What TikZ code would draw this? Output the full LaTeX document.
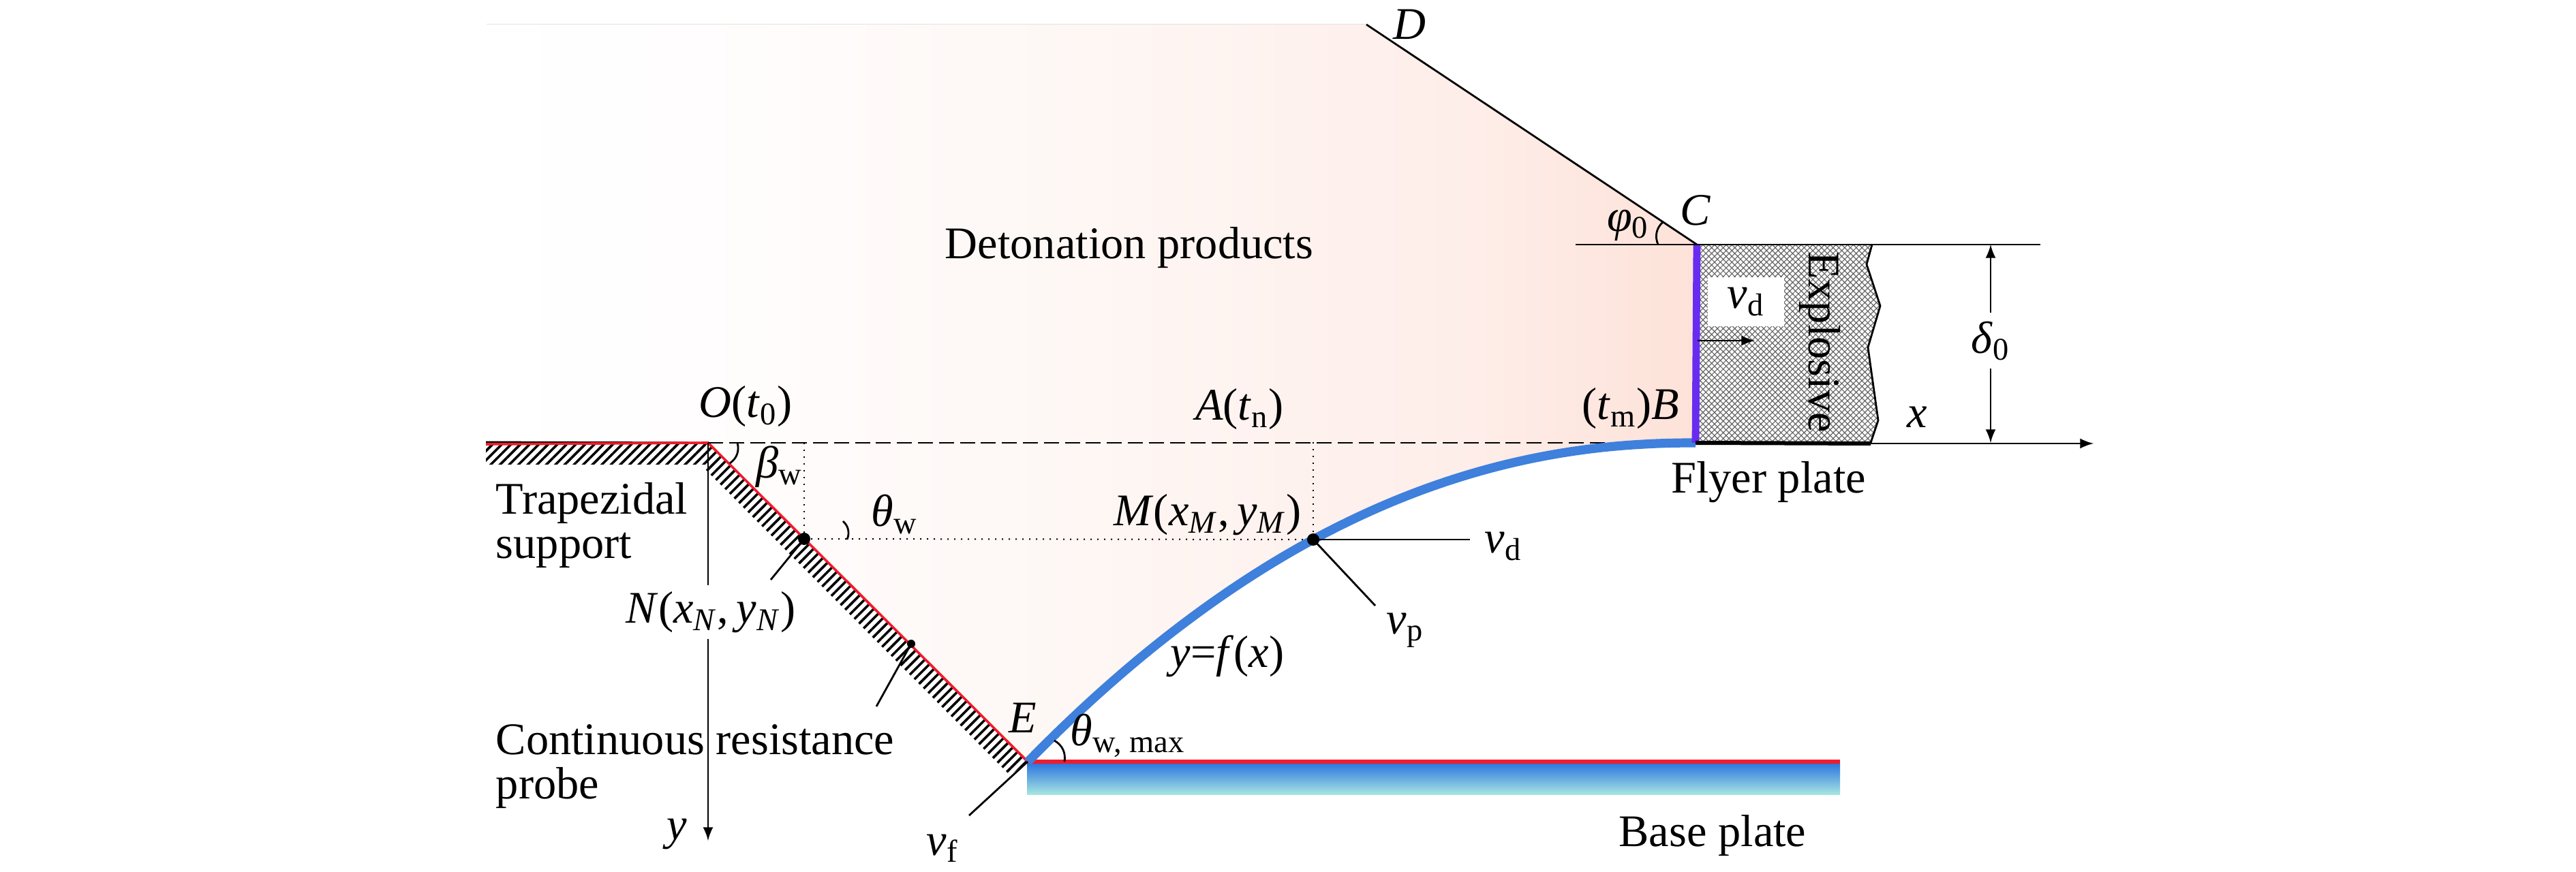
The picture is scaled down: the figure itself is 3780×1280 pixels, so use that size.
\documentclass[tikz,border=0pt]{standalone}
\usepackage{fontspec}
\setmainfont{Liberation Serif}
\usetikzlibrary{patterns.meta}
\definecolor{flowred}{RGB}{238,28,44}
\definecolor{curveblue}{RGB}{62,128,220}
\definecolor{frontviolet}{RGB}{104,44,240}
\definecolor{basetop}{RGB}{44,116,222}
\definecolor{basebot}{RGB}{168,232,226}
\definecolor{gasa}{RGB}{255,255,255}
\definecolor{gasb}{RGB}{255,253,253}
\definecolor{gasc}{RGB}{254,247,244}
\definecolor{gasd}{RGB}{254,238,234}
\definecolor{gase}{RGB}{253,226,216}
\pgfdeclarehorizontalshading{gasfade}{100bp}{color(0bp)=(gasa);
  color(25bp)=(gasa);color(34bp)=(gasb);
  color(50bp)=(gasc);color(65bp)=(gasd);
  color(75bp)=(gase);color(100bp)=(gase)}
\tikzstyle{txt}=[inner sep=0pt,font=\fontsize{16.6}{16.4}\selectfont]
\tikzstyle{thin line}=[line width=.7pt]
\tikzstyle{dot line}=[line width=.5pt,dotted]
\tikzstyle{hatch}=[pattern={Lines[angle=45,distance=2.4pt,line width=.9pt]}]
\tikzstyle{mesh a}=[pattern={Lines[angle=45,distance=1.5pt,line width=.3pt]},pattern color=black!60]
\tikzstyle{mesh b}=[pattern={Lines[angle=-45,distance=1.5pt,line width=.3pt]},pattern color=black!60]
\begin{document}
\begin{tikzpicture}[x=.25pt,y=-.25pt,>=latex]
  \useasboundingbox (0,0) rectangle (3780,1280);

  \coordinate (O) at (1039,650);
  \coordinate (E) at (1508,1118);
  \coordinate (A) at (1927,649);
  \coordinate (B) at (2488,650);
  \coordinate (C) at (2490,359);
  \coordinate (D) at (2005,36);
  \coordinate (M) at (1927,792);
  \coordinate (N) at (1180,791);
  \coordinate (R) at (1337,945);

  % detonation products
  \fill[shading=gasfade] (714,36) -- (D) -- (C) -- (B)
    -- plot[domain=0:980,samples=50,smooth] ({2488-\x},{650+142*pow(\x/561,2.14)})
    -- (O) -- (714,648) -- cycle;

  % base plate
  \fill[top color=basetop,bottom color=basebot] (1507,1120) rectangle (2700,1167);
  \draw[flowred,line width=1.3pt] (E) -- (2700,1118);

  % support
  \fill[hatch] (713,652) rectangle (1039,682);
  \fill[hatch] (O) -- (E) -- (1482,1138) -- (1036,690) -- cycle;
  \draw[thin line] (713,649) -- (O);
  \draw[flowred,line width=.9pt] (713,652) -- (O) -- (E);

  % explosive
  \fill[white] (C) -- (2747,359) -- (2739,388) -- (2759,449) -- (2741,510) -- (2756,617) -- (2745,650) -- (B) -- cycle;
  \fill[mesh a] (C) -- (2747,359) -- (2739,388) -- (2759,449) -- (2741,510) -- (2756,617) -- (2745,650) -- (B) -- cycle;
  \fill[mesh b] (C) -- (2747,359) -- (2739,388) -- (2759,449) -- (2741,510) -- (2756,617) -- (2745,650) -- (B) -- cycle;
  \draw[thin line] (2747,359) -- (2739,388) -- (2759,449) -- (2741,510) -- (2756,617) -- (2745,650);

  % lines
  \draw[line width=.6pt,dashed,dash pattern=on 5.5pt off 2.2pt] (O) -- (B);
  \draw[dot line] (N) -- (M);
  \draw[dot line] (1180,650) -- (N);
  \draw[dot line] (A) -- (M);
  \draw[curveblue,line width=3.3pt] plot[domain=0:980,samples=50,smooth] ({2488-\x},{650+142*pow(\x/561,2.14)});
  \draw[frontviolet,line width=2.7pt] (C) -- (B);
  \draw[line width=1.5pt] (B) -- (2745,651);
  \draw[thin line] (D) -- (C);
  \draw[thin line] (2312,359) -- (2994,359);
  \draw[thin line,->] (2745,651) -- (3072,651);

  \fill (M) circle (9);
  \fill (N) circle (9);
  \fill (R) circle (6);
  \draw[thin line] (M) -- (2157,792);
  \draw[thin line] (M) -- (2018,889);
  \draw[thin line] (N) -- (1131,851);
  \draw[thin line] (R) -- (1286,1037);
  \draw[thin line] (E) -- (1422,1197);

  % angles
  \draw[thin line] (1082,650) to[bend left=35] (1071,680);
  \draw[thin line] (1237,765) to[bend left=35] (1243,792);
  \draw[thin line] (2440,326) to[bend right=35] (2433,359);
  \draw[thin line] (1547,1087) to[bend left=35] (1562,1118);

  % y axis and thickness
  \draw[thin line,->] (O) -- node[txt,pos=.426,fill=white,minimum height=79*.25pt,minimum width=220*.25pt,xshift=1pt] (lN) {\textit{N}(\textit{x}\textsubscript{\textit{N}},\,\textit{y}\textsubscript{\textit{N}})} (1039,1234);
  \draw[thin line,<->] (2921,359) -- node[txt,fill=white,minimum height=82*.25pt,minimum width=4pt,pos=.486] (lDelta) {\textit{δ}\textsubscript{0}} (2921,650);

  \node[txt,fill=white,minimum width=28pt,minimum height=18pt] (lVd) at (2562,443) {\textit{v}\textsubscript{d}};
  \draw[thin line,->] (2491,500) -- (2575,500);

  % labels
  \node[txt] (lProducts) at (1657,364) {Detonation products};
  \node[txt] (lD) at (2068,36) {\textit{D}};
  \node[txt] (lC) at (2488,309) {\textit{C}};
  \node[txt] (lPhi) at (2389,331) {\textit{φ}\textsubscript{0}};
  \node[txt,rotate=-90] (lExplosive) at (2670,502) {Explosive};
  \node[txt] (lX) at (2813,612) {\textit{x}};
  \node[txt] (lB) at (2393,600) {(\textit{t}\textsubscript{m})\textit{B}};
  \node[txt] (lFlyer) at (2595,708) {Flyer plate};
  \node[txt] (lA) at (1819,601) {\textit{A}(\textit{t}\textsubscript{n})};
  \node[txt] (lM) at (1772,756) {\textit{M}(\textit{x}\textsubscript{\textit{M}},\,\textit{y}\textsubscript{\textit{M}})};
  \node[txt] (lVdM) at (2206,802) {\textit{v}\textsubscript{d}};
  \node[txt] (lVp) at (2062,925) {\textit{v}\textsubscript{p}};
  \node[txt] (lCurve) at (1801,963) {\textit{y}=\textit{f}(\textit{x})};
  \node[txt] (lO) at (1094,597) {\textit{O}(\textit{t}\textsubscript{0})};
  \node[txt] (lBeta) at (1144,685) {\textit{β}\textsubscript{w}};
  \node[txt] (lTheta) at (1313,755) {\textit{θ}\textsubscript{w}};
  \node[txt,anchor=west,align=left] (lSupport) at (727,771) {Trapezidal\\support};
  \node[txt,anchor=west,align=left] (lProbe) at (727,1125) {Continuous resistance\\probe};
  \node[txt] (lY) at (993,1224) {\textit{y}};
  \node[txt] (lVf) at (1383,1245) {\textit{v}\textsubscript{f}};
  \node[txt] (lE) at (1501,1054) {\textit{E}};
  \node[txt] (lThetaMax) at (1655,1080) {\textit{θ}\textsubscript{w, max}};
  \node[txt] (lBase) at (2513,1227) {Base plate};
\end{tikzpicture}
\end{document}
